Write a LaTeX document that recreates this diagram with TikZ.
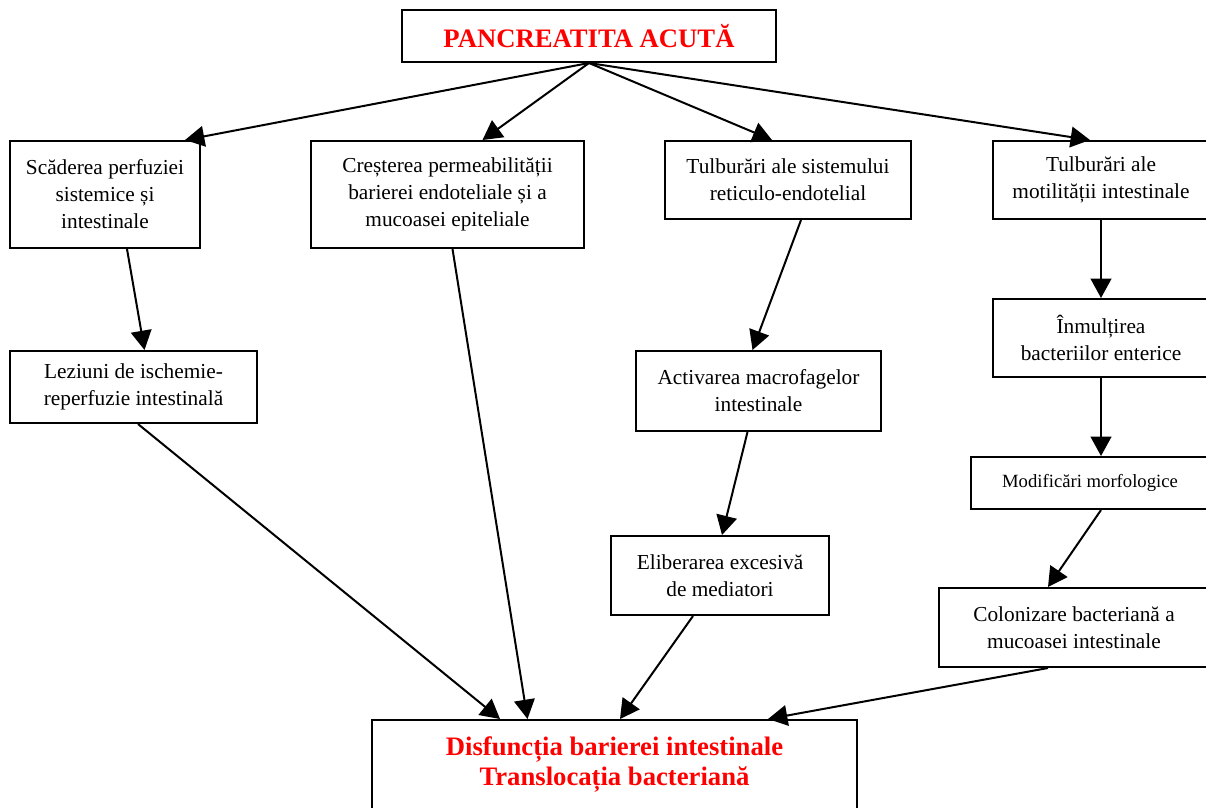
\documentclass[tikz,border=0pt]{standalone}
\usepackage{fontspec}
\setmainfont{Liberation Serif}
\usetikzlibrary{arrows.meta,calc}
\begin{document}
\begin{tikzpicture}[x=0.75pt,y=-0.75pt,>={Triangle[length=14.5pt,width=15.5pt]},
 box/.style={draw,line width=1.5pt,align=center,inner sep=0pt,font=\fontsize{16}{20.25}\selectfont},
 redbox/.style={box,text=red,font=\bfseries\fontsize{20}{22.5}\selectfont},
 arr/.style={->,line width=1.5pt}]
 \useasboundingbox(0,0)rectangle(1206,807);
 \node[redbox,minimum width=280.5pt,minimum height=39pt](pa)at(589,36){PANCREATITA ACUTĂ};
 \node[box,minimum width=142.5pt,minimum height=80.25pt](perf)at(105,194.5){Scăderea perfuziei\\sistemice și\\intestinale};
 \node[box,minimum width=204.75pt,minimum height=80.25pt](perm)at(447.5,194.5){Creșterea permeabilității\\barierei endoteliale și a\\mucoasei epiteliale};
 \node[box,minimum width=184.5pt,minimum height=58.5pt](sre)at(788,180){Tulburări ale sistemului\\reticulo-endotelial};
 \node[box,minimum width=162pt,minimum height=58.5pt](mot)at(1101,180){Tulburări ale\\motilității intestinale};
 \node[box,minimum width=185.25pt,minimum height=54pt](isch)at(133.5,387){Leziuni de ischemie-\\reperfuzie intestinală};
 \node[box,minimum width=183.75pt,minimum height=60pt](macro)at(758.5,391){Activarea macrofagelor\\intestinale};
 \node[box,minimum width=163.5pt,minimum height=59.25pt](med)at(720,575.5){Eliberarea excesivă\\de mediatori};
 \node[box,minimum width=162pt,minimum height=58.5pt](inm)at(1101,338){Înmulțirea\\bacteriilor enterice};
 \node[box,minimum width=178.5pt,minimum height=39pt,font=\fontsize{14}{18}\selectfont](morf)at(1090,483){Modificări morfologice};
 \node[box,minimum width=202.5pt,minimum height=59.25pt](colon)at(1074,627.5){Colonizare bacteriană a\\mucoasei intestinale};
 \node[redbox,minimum width=363.75pt,minimum height=67.5pt](disf)at(614.5,765){Disfuncția barierei intestinale\\Translocația bacteriană};
 \draw[arr](pa.south)--($(perf.north)+(80,0)$);
 \draw[arr](pa.south)--($(perm.north)+(35,0)$);
 \draw[arr](pa.south)--($(sre.north)+(-16,0)$);
 \draw[arr](pa.south)--($(mot.north)+(-11,0)$);
 \draw[arr]($(perf.south)+(22,0)$)--($(isch.north)+(11,0)$);
 \draw[arr]($(perm.south)+(5,0)$)--($(disf.north)+(-87,0)$);
 \draw[arr]($(sre.south)+(13,0)$)--($(macro.north)+(-6,0)$);
 \draw[arr]($(macro.south)+(-11,0)$)--($(med.north)+(2,0)$);
 \draw[arr](mot.south)--(inm.north);
 \draw[arr](inm.south)--(inm.south|-morf.north);
 \draw[arr]($(morf.south)+(11,0)$)--($(colon.north)+(-26,0)$);
 \draw[arr]($(colon.south)+(-26,0)$)--($(disf.north)+(153.5,0)$);
 \draw[arr]($(isch.south)+(4.5,0)$)--($(disf.north)+(-114.5,0)$);
 \draw[arr]($(med.south)+(-27,0)$)--($(disf.north)+(5.5,0)$);
\end{tikzpicture}
\end{document}
